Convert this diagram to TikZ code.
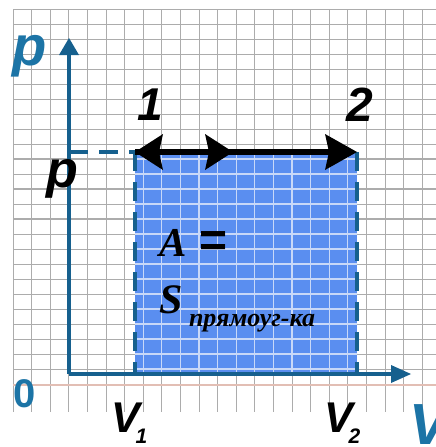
\documentclass[tikz,border=0pt]{standalone}
\usepackage{fontspec}
\setmainfont{Liberation Sans}
\newfontfamily\lserif{Liberation Serif}
\usetikzlibrary{arrows.meta}
\definecolor{axisblue}{RGB}{22,96,142}
\definecolor{lblblue}{RGB}{28,116,166}
\definecolor{fillblue}{RGB}{90,142,240}
\definecolor{gridgray}{RGB}{172,172,172}
\definecolor{gridlight}{RGB}{200,216,248}
\definecolor{gridpink}{RGB}{226,190,180}
\tikzset{
  gridline/.style={draw=gridgray, line width=1pt},
  gridthick/.style={draw=gridgray, line width=2.2pt},
  gridin/.style={draw=gridlight, line width=1.2pt},
  axisline/.style={draw=axisblue, line width=3.6pt},
  dashline/.style={draw=axisblue, line width=3.2pt, dash pattern=on 19pt off 11pt},
  movearrow/.style={draw=black, line width=6pt},
  lbl/.style={inner sep=0pt, outer sep=0pt},
}
\newcommand{\fs}[1]{\fontsize{#1}{#1}\selectfont}
\begin{document}
\begin{tikzpicture}[x=1pt,y=-1pt]
\useasboundingbox (0,0) rectangle (436,447);
\fill[white] (0,0) rectangle (436,447);
% graph paper
\foreach \i in {0,...,22} \draw[gridline] ({13+18.6*\i},9) -- ({13+18.6*\i},412);
\foreach \j in {0,...,25} \draw[gridline] (13,{9+15*\j}) -- (436,{9+15*\j});
\foreach \j in {10,12,14} \draw[gridthick] (13,{9+15*\j}) -- (436,{9+15*\j});
\draw[draw=gridpink, line width=1.6pt] (13,385) -- (436,385);
% key points
\coordinate (O) at (69,374);
\coordinate (Ptop) at (69,38);
\coordinate (Vend) at (411,374);
\coordinate (Pp) at (69,152);
\coordinate (P1) at (135,152);
\coordinate (P2) at (357,152);
\coordinate (B1) at (135,374);
\coordinate (B2) at (357,374);
\coordinate (Mid) at (233,152);
% shaded area
\fill[fillblue] (P1) rectangle (B2);
\begin{scope}
  \clip (P1) rectangle (B2);
  \foreach \i in {0,...,22} \draw[gridin] ({13+18.6*\i},9) -- ({13+18.6*\i},412);
  \foreach \j in {0,...,25} \draw[gridin] (13,{9+15*\j}) -- (436,{9+15*\j});
\end{scope}
% axes
\draw[axisline, -{Triangle[length=17pt,width=20pt,line width=0pt]}] (O) -- (Ptop);
\draw[axisline, -{Triangle[length=20pt,width=18pt,line width=0pt]}] (O) -- (Vend);
% dashed lines
\draw[dashline] (Pp) -- (P1);
\draw[dashline] (P1) -- (B1);
\draw[dashline] (P2) -- (B2);
% process arrow
\draw[movearrow, {Stealth[length=28pt,width=36pt,inset=4pt,line width=0pt]}-{Stealth[length=32pt,width=36pt,inset=4pt,line width=0pt]}] (P1) -- (P2);
\draw[movearrow, -{Stealth[length=28pt,width=36pt,inset=4pt,line width=0pt]}] (P1) -- (Mid);
% labels
\node[lbl, text=lblblue, font=\fs{56}\bfseries\itshape, anchor=base] (plab) at (30,65) {p};
\node[lbl, text=black, font=\fs{52}\bfseries\itshape, anchor=base] (pval) at (62,187) {p};
\node[lbl, text=black, font=\fs{46}\bfseries\itshape, anchor=base] (one) at (150,120) {1};
\node[lbl, text=black, font=\fs{48}\bfseries\itshape, anchor=base] (two) at (360,121) {2};
\node[lbl, text=lblblue, font=\fs{40}\bfseries, anchor=base] (zero) at (25,407) {0};
\node[lbl, text=lblblue, font=\fs{58}\bfseries\itshape, anchor=base west] (Vlab) at (409,444) {V};
\node[lbl, text=black, font=\bfseries\itshape, anchor=base west] (V1) at (111,432)
  {\fs{43}V\hspace{-4pt}\raisebox{-11pt}{\fs{21}1}};
\node[lbl, text=black, font=\bfseries\itshape, anchor=base west] (V2) at (324,432)
  {\fs{43}V\hspace{-4pt}\raisebox{-11pt}{\fs{21}2}};
\node[lbl, text=black, font=\lserif\bfseries\itshape\fs{41}, anchor=base west] (A) at (159,256) {A};
\node[lbl, text=black, font=\fs{48}\bfseries, anchor=center] (eq) at (214,244) {=};
\node[lbl, text=black, font=\lserif\bfseries\itshape\fs{42}, anchor=base west] (S) at (159,313) {S};
\node[lbl, text=black, font=\lserif\bfseries\itshape\fs{26}, anchor=base west] (Ssub) at (189,326) {прямоуг-ка};
\end{tikzpicture}
\end{document}
